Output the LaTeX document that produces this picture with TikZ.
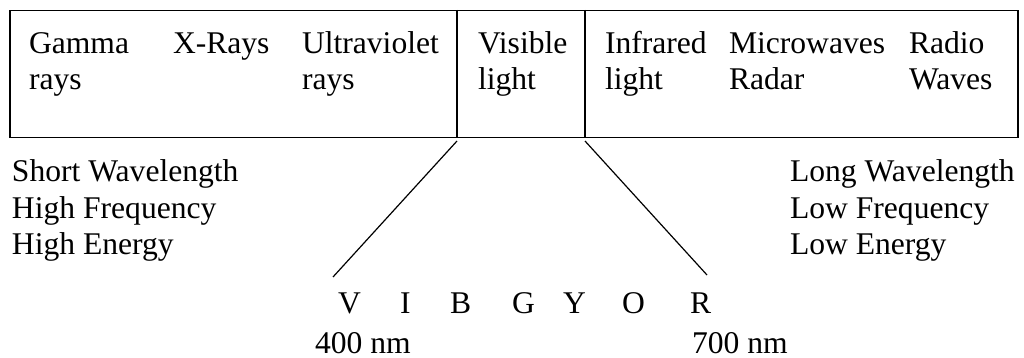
\documentclass[tikz,border=0pt]{standalone}
\usepackage{fontspec}
\setmainfont{Liberation Serif}
\begin{document}
\begin{tikzpicture}[x=1pt,y=-1pt,
  lbl/.style={anchor=base west,inner sep=0pt,outer sep=0pt,font=\fontsize{31.6}{36}\selectfont},
  rule/.style={line width=1.5pt,black},
  conn/.style={line width=1.2pt,black}]
\useasboundingbox (0,0) rectangle (1024,358);
% band box
\node[rule,draw,minimum width=1008pt,minimum height=127pt,inner sep=0pt,anchor=north west] (band) at (9,10) {};
\coordinate (d1t) at (457,10);
\coordinate (d1b) at (457,137);
\coordinate (d2t) at (585,10);
\coordinate (d2b) at (585,137);
\draw[rule] (d1t) -- (d1b);
\draw[rule] (d2t) -- (d2b);
% band labels
\node[lbl] (gamma) at (29,54) {\begin{tabular}[t]{@{}l@{}}Gamma\\rays\end{tabular}};
\node[lbl] (xray) at (173,54) {X-Rays};
\node[lbl] (uv) at (302,54) {\begin{tabular}[t]{@{}l@{}}Ultraviolet\\rays\end{tabular}};
\node[lbl] (vis) at (478,54) {\begin{tabular}[t]{@{}l@{}}Visible\\light\end{tabular}};
\node[lbl] (ir) at (605,54) {\begin{tabular}[t]{@{}l@{}}Infrared\\light\end{tabular}};
\node[lbl] (micro) at (729,54) {\begin{tabular}[t]{@{}l@{}}Microwaves\\Radar\end{tabular}};
\node[lbl] (radio) at (909,54) {\begin{tabular}[t]{@{}l@{}}Radio\\Waves\end{tabular}};
% side labels
\node[lbl] (short) at (12,182) {\begin{tabular}[t]{@{}l@{}}Short Wavelength\\High Frequency\\High Energy\end{tabular}};
\node[lbl] (long) at (790,182) {\begin{tabular}[t]{@{}l@{}}Long Wavelength\\Low Frequency\\Low Energy\end{tabular}};
% VIBGYOR
\node[lbl] (lv) at (338,313) {V};
\node[lbl] (li) at (400,313) {I};
\node[lbl] (lb) at (450,313) {B};
\node[lbl] (lg) at (512,313) {G};
\node[lbl] (ly) at (563,313) {Y};
\node[lbl] (lo) at (622,313) {O};
\node[lbl] (lr) at (690,313) {R};
\node[lbl] (nm4) at (315,353) {400 nm};
\node[lbl] (nm7) at (692,353) {700 nm};
% fan lines
\coordinate (f1s) at (457,141);
\coordinate (f1e) at (333,277);
\coordinate (f2s) at (585,141);
\coordinate (f2e) at (707,275);
\draw[conn] (f1s) -- (f1e);
\draw[conn] (f2s) -- (f2e);
\end{tikzpicture}
\end{document}
